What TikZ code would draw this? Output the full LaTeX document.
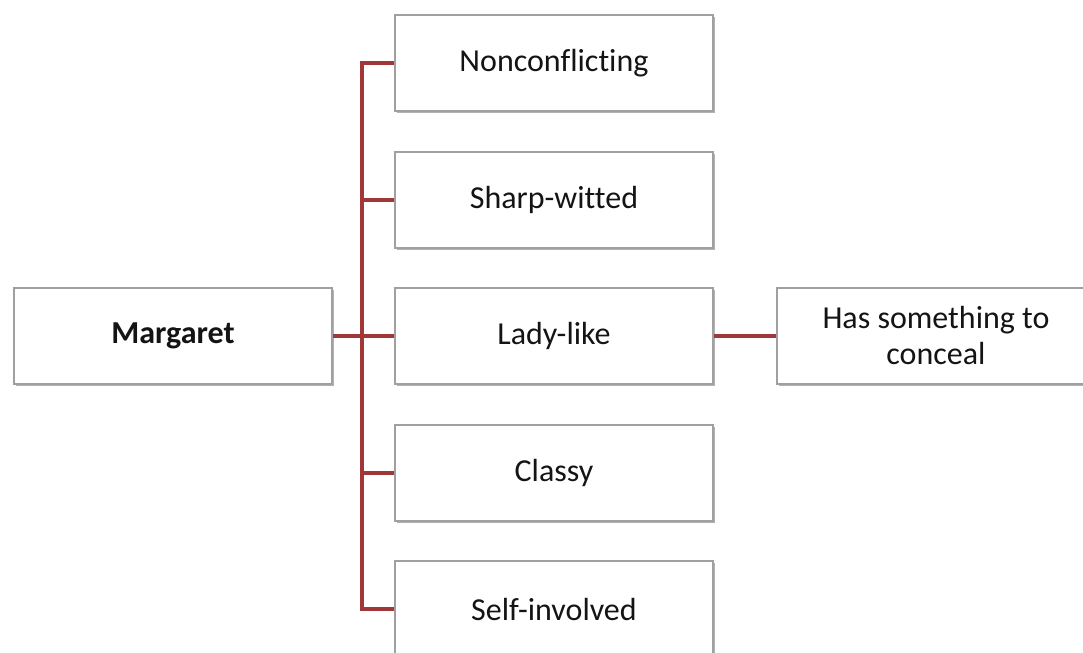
\documentclass[tikz,border=0pt]{standalone}
\usepackage{fontspec}
\setmainfont{Carlito}[Ligatures=NoCommon]
\usepackage{tikz}
\usetikzlibrary{shadows}

\definecolor{linkred}{RGB}{160,56,58}
\definecolor{boxgray}{RGB}{160,160,160}
\definecolor{txt}{RGB}{20,20,20}

\begin{document}
\begin{tikzpicture}[
        x=0.5pt, y=-0.5pt,
        every node/.style={font=\fontsize{16}{18}\selectfont, text=txt},
        trait/.style={rectangle, draw=boxgray, line width=0.6pt, fill=white,
            minimum width=159pt, minimum height=48pt, inner sep=0pt, align=center,
            drop shadow={shadow xshift=1pt, shadow yshift=-1.2pt, opacity=0.3, fill=black}},
        link/.style={draw=linkred, line width=2.2pt}
    ]

    \useasboundingbox (0,0) rectangle (1083,653);
    \clip (0,0) rectangle (1083,653);

    % Boxes
    \node[trait, font=\fontsize{16}{18}\selectfont\bfseries] (marg) at (173,336) {Margaret};
    \node[trait] (nonc) at (554,63) {Nonconflicting};
    \node[trait] (sharp) at (554,200) {Sharp-witted};
    \node[trait] (lady) at (554,336) {Lady-like};
    \node[trait] (classy) at (554,473) {Classy};
    \node[trait] (self) at (554,609) {Self-involved};
    \node[trait] (conceal) at (936,336) {Has something to\\conceal};

    % Connectors
    \coordinate (trunk) at (362,336);
    \draw[link] (marg.east) -- (lady.west);
    \draw[link] (nonc.west) -| (trunk);
    \draw[link] (sharp.west) -| (trunk);
    \draw[link] (classy.west) -| (trunk);
    \draw[link] (self.west) -| (trunk);
    \draw[link] (lady.east) -- (conceal.west);

\end{tikzpicture}
\end{document}
